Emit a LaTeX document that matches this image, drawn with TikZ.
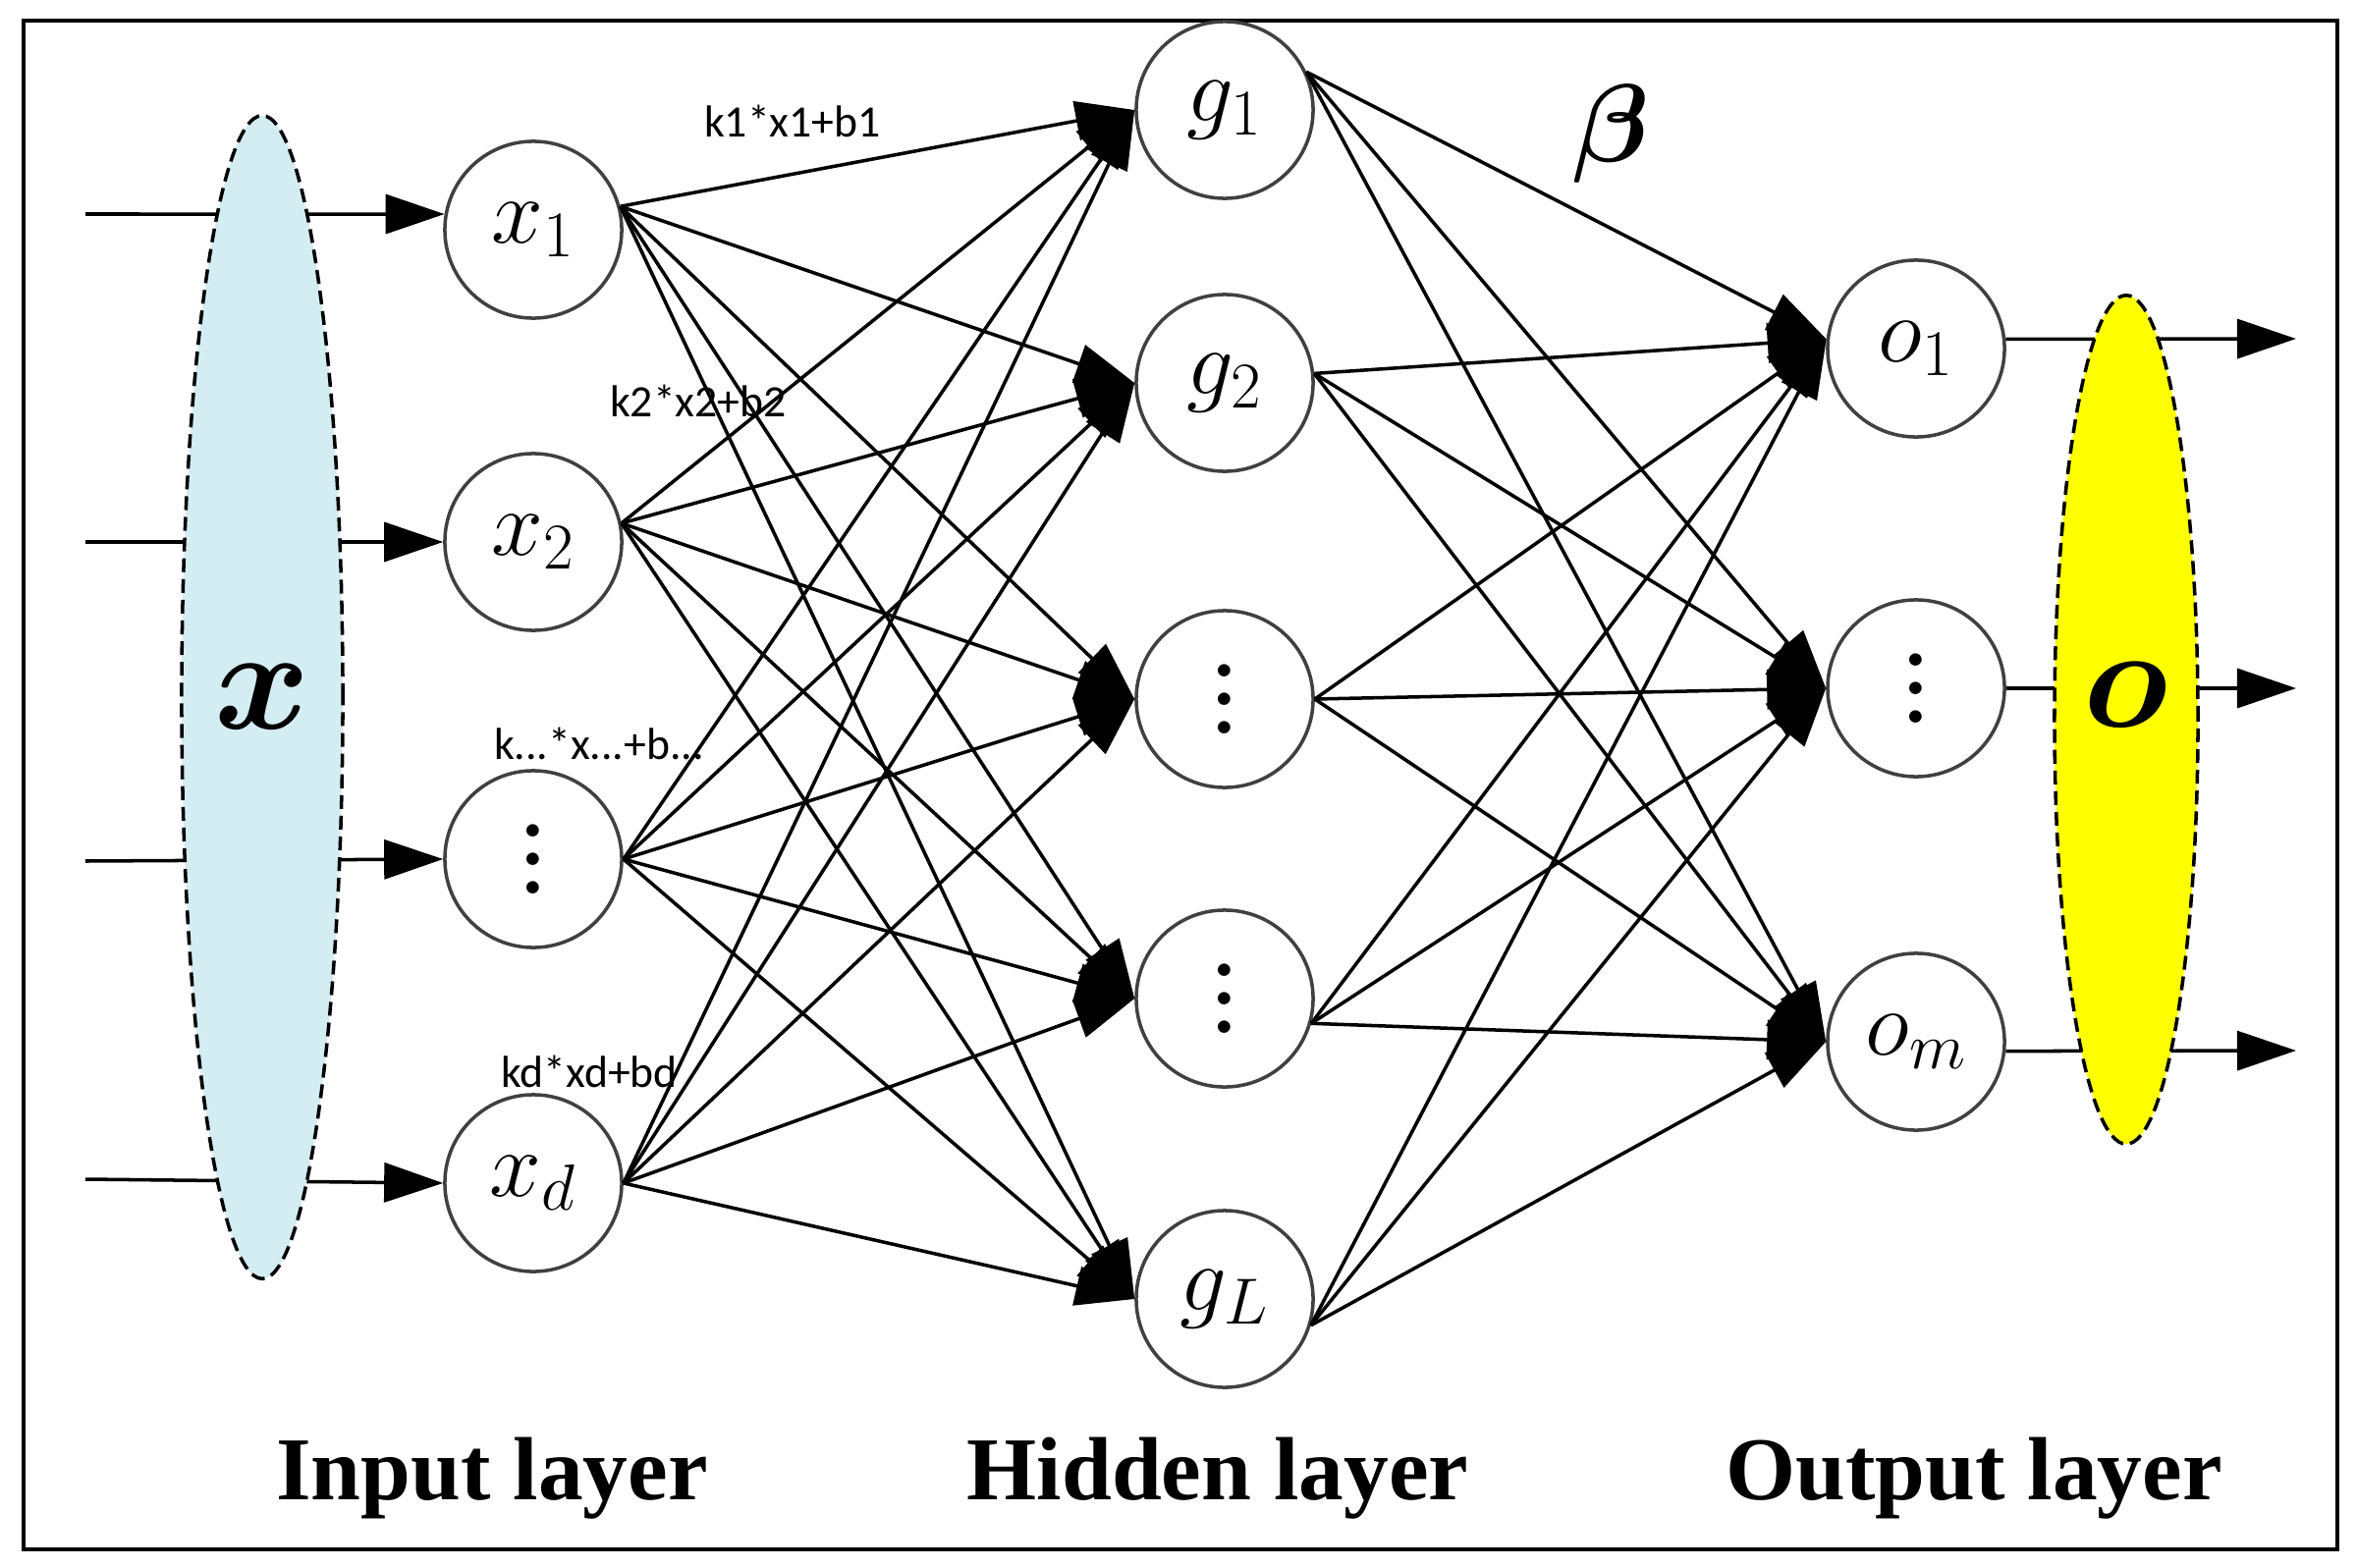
\RequirePackage{fix-cm}
\documentclass[tikz,border=0pt]{standalone}
\usepackage{amsmath}
\usepackage{fontspec}
\newfontfamily\layerfont{Liberation Serif}
\newfontfamily\kfont{Carlito}
\usepackage{tikz}
\usetikzlibrary{shapes.geometric,arrows.meta,positioning}
\definecolor{xblue}{RGB}{212,237,242}
\definecolor{oyellow}{RGB}{255,255,0}
\newcommand{\bigdots}{\vbox{\fontsize{44}{44}\selectfont\baselineskip=0.29cm\lineskiplimit=-1cm\hbox{.}\hbox{.}\hbox{.}}}

\begin{document}
\begin{tikzpicture}[x=0.01cm, y=-0.01cm, line width=1pt, >={Triangle[length=6mm,width=4mm]}]
   \useasboundingbox (0,0) rectangle (2400,1597);
   \draw[line width=1.3pt] (24,21) rectangle (2380,1578);
   \begin{scope}[every node/.style={circle,draw=black!75,line width=1pt,minimum size=1.8cm,inner sep=0pt,font=\fontsize{27}{32}\selectfont}]
    \node (x1) at (543,234) {$x_1$};
    \node (x2) at (543,552) {$x_2$};
    \node (x3) at (543,875) {\bigdots};
    \node (x4) at (543,1205) {$x_d$};
    \node (h1) at (1247,112) {$g_1$};
    \node (h2) at (1247,390) {$g_2$};
    \node (h3) at (1247,712) {\bigdots};
    \node (h4) at (1247,1017) {\bigdots};
    \node (h5) at (1247,1323) {$g_L$};
    \node (o1) at (1951,355) {$o_1$};
    \node (o2) at (1951,701) {\bigdots};
    \node (o3) at (1951,1061) {$o_m$};
   \end{scope}
   % free ends of the input and output arrows
   \coordinate (i1) at (87,218);
   \coordinate (i2) at (87,552);
   \coordinate (i3) at (87,877);
   \coordinate (i4) at (87,1201);
   \coordinate (e1) at (2338,345);
   \coordinate (e2) at (2338,701);
   \coordinate (e3) at (2338,1070);
   \draw[->] (i1) -- (x1.170);
   \draw[->] (i2) -- (x2.west);
   \draw[->] (i3) -- (x3.west);
   \draw[->] (i4) -- (x4.west);
   \draw[->] (o1.6) -- (e1);
   \draw[->] (o2.east) -- (e2);
   \draw[->] (o3.-6) -- (e3);
   \begin{scope}[every node/.style={ellipse,draw,line width=1pt,dash pattern=on 4pt off 2pt,inner sep=0pt}]
    \node[fill=xblue,minimum width=1.64cm,minimum height=11.84cm] (xvec) at (267,710) {\fontsize{42}{48}\selectfont$\boldsymbol{x}$};
    \node[fill=oyellow,minimum width=1.46cm,minimum height=8.64cm] (ovec) at (2165,733) {};
   \end{scope}
   \node (olab) at (2165,708) {\fontsize{42}{48}\selectfont$\boldsymbol{o}$};
   \node (beta) at (1641,136) {\fontsize{32}{36}\selectfont$\boldsymbol{\beta}$};
   \begin{scope}[every node/.style={font=\kfont\fontsize{13}{15}\selectfont}]
    \node (k1) at (807,123) {k1*x1+b1};
    \node (k2) at (711,408) {k2*x2+b2};
    \node (k3) at (610,757) {k...*x...+b...};
    \node (k4) at (600,1091) {kd*xd+bd};
   \end{scope}
   \begin{scope}[every edge/.style={draw=black,line width=1pt,->}]
    \path (x1.15) edge (h1.west) edge (h2.west) edge (h3.west) edge (h4.west) edge (h5.west);
    \path (x2.12) edge (h1.west) edge (h2.west) edge (h3.west) edge (h4.west) edge (h5.west);
    \path (x3.east) edge (h1.west) edge (h2.west) edge (h3.west) edge (h4.west) edge (h5.west);
    \path (x4.east) edge (h1.west) edge (h2.west) edge (h3.west) edge (h4.west) edge (h5.west);
    \path (h1.25) edge (o1.174) edge (o2.west) edge (o3.west);
    \path (h2.6) edge (o1.174) edge (o2.west) edge (o3.west);
    \path (h3.east) edge (o1.174) edge (o2.west) edge (o3.west);
    \path (h4.-16) edge (o1.174) edge (o2.west) edge (o3.west);
    \path (h5.-17) edge (o1.174) edge (o2.west) edge (o3.west);
   \end{scope}
   \begin{scope}[every node/.style={anchor=base,font=\layerfont\bfseries\fontsize{26}{30}\selectfont}]
    \node (inlab) at (501,1527) {Input layer};
    \node (hidlab) at (1240,1527) {Hidden layer};
    \node (outlab) at (2010,1527) {Output layer};
   \end{scope}
\end{tikzpicture}
\end{document}
